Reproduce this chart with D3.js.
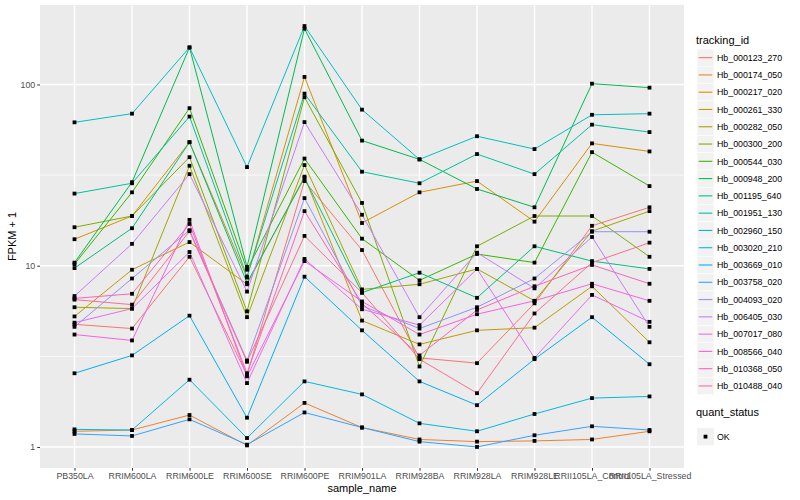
<!DOCTYPE html>
<html>
<head>
<meta charset="utf-8">
<script src="https://cdn.jsdelivr.net/npm/d3@7"></script>
<style>
  body { margin: 0; background: #fff; }
  text { font-family: "Liberation Sans", Arial, sans-serif; }
</style>
</head>
<body>
<div id="chart"></div>
<script>
// samples on the x axis
var samples = ["PB350LA", "RRIM600LA", "RRIM600LE", "RRIM600SE", "RRIM600PE", "RRIM901LA",
               "RRIM928BA", "RRIM928LA", "RRIM928LE", "RRII105LA_Control", "RRII105LA_Stressed"];

var trackingIds = ["Hb_000123_270", "Hb_000174_050", "Hb_000217_020", "Hb_000261_330", "Hb_000282_050",
                   "Hb_000300_200", "Hb_000544_030", "Hb_000948_200", "Hb_001195_640", "Hb_001951_130",
                   "Hb_002960_150", "Hb_003020_210", "Hb_003669_010", "Hb_003758_020", "Hb_004093_020",
                   "Hb_006405_030", "Hb_007017_080", "Hb_008566_040", "Hb_010368_050", "Hb_010488_040"];

// FPKM + 1, one array per tracking_id (same order as samples)
var hb_000123_270 = [4.75, 4.5, 11.2, 2.5, 29.3, 12.2, 3.1, 2.9, 6.2, 16.6, 21];
var hb_000174_050 = [1.22, 1.24, 1.5, 1.02, 1.75, 1.28, 1.1, 1.07, 1.08, 1.1, 1.22];
var hb_000217_020 = [14, 18.8, 48, 8.6, 110, 17.2, 25.4, 29.3, 17.5, 47.3, 42.7];
var hb_000261_330 = [5.25, 9.5, 13.5, 7.9, 31, 4.98, 3.68, 4.4, 4.55, 7.7, 3.78];
var hb_000282_050 = [5.9, 5.8, 35.6, 5.2, 35.9, 7.4, 7.9, 9.6, 6.4, 15.5, 20];
var hb_000300_200 = [16.3, 18.8, 39.7, 5.6, 85, 22.2, 2.78, 12.8, 18.8, 18.8, 11.2];
var hb_000544_030 = [10.2, 25.4, 74, 9.5, 39, 14.1, 8.3, 11.6, 10.4, 42.3, 27.5];
var hb_000948_200 = [10.4, 28.9, 160, 9.85, 203, 49, 38.6, 26.5, 21, 101, 96];
var hb_001195_640 = [9.7, 16.1, 48, 8.05, 30.5, 7.1, 9.15, 6.65, 12.8, 10.6, 9.6];
var hb_001951_130 = [25, 28.5, 66.5, 8.7, 89, 33, 28.5, 41.3, 32, 60, 54.6];
var hb_002960_150 = [61.8, 69, 160, 35, 210, 72.6, 38.6, 51.8, 44, 68, 69];
var hb_003020_210 = [1.25, 1.24, 2.35, 1.12, 2.3, 1.95, 1.35, 1.22, 1.52, 1.86, 1.9];
var hb_003669_010 = [2.55, 3.2, 5.3, 1.45, 8.7, 4.4, 2.3, 1.7, 3.05, 5.2, 2.86];
var hb_003758_020 = [1.18, 1.15, 1.42, 1.03, 1.55, 1.28, 1.07, 1.0, 1.16, 1.3, 1.24];
var hb_004093_020 = [4.6, 8.5, 15.7, 3.0, 23.6, 6.0, 4.5, 5.9, 8.5, 15.4, 15.4];
var hb_006405_030 = [6.8, 13.2, 32, 7.2, 62, 19.1, 5.2, 11.8, 7.5, 14.4, 4.6];
var hb_007017_080 = [4.85, 5.8, 11.9, 2.25, 10.9, 5.75, 4.7, 9.6, 3.1, 6.9, 4.9];
var hb_008566_040 = [4.17, 3.87, 17.9, 2.45, 10.6, 6.35, 4.17, 5.4, 6.4, 7.95, 6.4];
var hb_010368_050 = [6.6, 7.0, 17.0, 2.55, 20, 6.2, 3.2, 5.7, 7.7, 10.1, 7.95];
var hb_010488_040 = [6.5, 6.1, 15.5, 2.95, 14.6, 7.1, 3.05, 1.98, 5.45, 10.4, 13.4];

var seriesValues = [hb_000123_270, hb_000174_050, hb_000217_020, hb_000261_330, hb_000282_050,
                    hb_000300_200, hb_000544_030, hb_000948_200, hb_001195_640, hb_001951_130,
                    hb_002960_150, hb_003020_210, hb_003669_010, hb_003758_020, hb_004093_020,
                    hb_006405_030, hb_007017_080, hb_008566_040, hb_010368_050, hb_010488_040];

var yTicks = [1, 10, 100];
var yMinor = [Math.sqrt(10), Math.sqrt(1000)];

// ggplot hue palette for 20 levels
var colours = ["#F8766D", "#EA8331", "#D89000", "#C09B00", "#A3A500", "#7CAE00", "#39B600", "#00BB4E",
               "#00BF7D", "#00C1A3", "#00BFC4", "#00BAE0", "#00B0F6", "#35A2FF", "#9590FF", "#C77CFF",
               "#E76BF3", "#FA62DB", "#FF62BC", "#FF6C91"];

var W = 800, H = 500;
var panel = {left: 40, top: 5, right: 684, bottom: 468};
var ptSize = 3.8;

var svg = d3.select("#chart").append("svg")
    .attr("width", W)
    .attr("height", H);

// build long data
var data = trackingIds.map(function(id, i) {
    return {id: id, colour: colours[i], values: seriesValues[i].map(function(v, j) {
        return {sample: samples[j], v: v};
    })};
});

var allVals = d3.merge(seriesValues);
var lmin = Math.log10(d3.min(allVals)), lmax = Math.log10(d3.max(allVals));
var pad = (lmax - lmin) * 0.05;

var x = d3.scalePoint().domain(samples).range([panel.left, panel.right]).padding(0.6);
var y = d3.scaleLog()
    .domain([Math.pow(10, lmin - pad), Math.pow(10, lmax + pad)])
    .range([panel.bottom, panel.top]);

// panel background
svg.append("rect")
    .attr("x", panel.left).attr("y", panel.top)
    .attr("width", panel.right - panel.left).attr("height", panel.bottom - panel.top)
    .attr("fill", "#EBEBEB");

// minor grid
svg.selectAll(".minor").data(yMinor).enter().append("line")
    .attr("x1", panel.left).attr("x2", panel.right)
    .attr("y1", function(d) { return y(d); }).attr("y2", function(d) { return y(d); })
    .attr("stroke", "#fff").attr("stroke-width", 0.7);

// major grid
svg.selectAll(".hmajor").data(yTicks).enter().append("line")
    .attr("x1", panel.left).attr("x2", panel.right)
    .attr("y1", function(d) { return y(d); }).attr("y2", function(d) { return y(d); })
    .attr("stroke", "#fff").attr("stroke-width", 1.4);
svg.selectAll(".vmajor").data(samples).enter().append("line")
    .attr("y1", panel.top).attr("y2", panel.bottom)
    .attr("x1", function(d) { return x(d); }).attr("x2", function(d) { return x(d); })
    .attr("stroke", "#fff").attr("stroke-width", 1.4);

// lines
var line = d3.line()
    .x(function(d) { return x(d.sample); })
    .y(function(d) { return y(d.v); });

svg.selectAll(".series").data(data).enter().append("path")
    .attr("d", function(d) { return line(d.values); })
    .attr("fill", "none")
    .attr("stroke", function(d) { return d.colour; })
    .attr("stroke-width", 1);

// points
data.forEach(function(s) {
    svg.selectAll(null).data(s.values).enter().append("rect")
        .attr("x", function(d) { return x(d.sample) - ptSize / 2; })
        .attr("y", function(d) { return y(d.v) - ptSize / 2; })
        .attr("width", ptSize).attr("height", ptSize)
        .attr("fill", "#000");
});

// axes
var xAxis = svg.append("g")
    .attr("transform", "translate(0," + panel.bottom + ")")
    .call(d3.axisBottom(x).tickSize(2.75).tickPadding(2));
var yAxis = svg.append("g")
    .attr("transform", "translate(" + panel.left + ",0)")
    .call(d3.axisLeft(y).tickValues(yTicks).tickFormat(d3.format("d")).tickSize(2.75).tickPadding(2));

[xAxis, yAxis].forEach(function(a) {
    a.select(".domain").remove();
    a.selectAll(".tick line").attr("stroke", "#333").attr("stroke-width", 1);
    a.selectAll(".tick text").attr("fill", "#4D4D4D").attr("font-size", "8.8px")
        .style("font-family", "'Liberation Sans', Arial, sans-serif");
});

// axis titles
svg.append("text")
    .attr("x", (panel.left + panel.right) / 2).attr("y", 492)
    .attr("text-anchor", "middle").attr("font-size", "11px").attr("fill", "#000")
    .text("sample_name");
svg.append("text")
    .attr("transform", "translate(16," + ((panel.top + panel.bottom) / 2) + ") rotate(-90)")
    .attr("text-anchor", "middle").attr("font-size", "11px").attr("fill", "#000")
    .text("FPKM + 1");

// legend: tracking_id
var lg = svg.append("g");
var keyX = 697, keyTop = 49, keyH = 17.28;
lg.append("text").attr("x", 696).attr("y", 44).attr("font-size", "11px").attr("fill", "#000")
    .text("tracking_id");
data.forEach(function(s, i) {
    var ky = keyTop + i * keyH;
    lg.append("rect").attr("x", keyX).attr("y", ky).attr("width", 17).attr("height", keyH)
        .attr("fill", "#F2F2F2").attr("stroke", "#fff").attr("stroke-width", 0.5);
    lg.append("line").attr("x1", keyX + 1.7).attr("x2", keyX + 15.3)
        .attr("y1", ky + keyH / 2).attr("y2", ky + keyH / 2)
        .attr("stroke", s.colour).attr("stroke-width", 1.1);
    lg.append("text").attr("x", 717).attr("y", ky + keyH / 2 + 3.2)
        .attr("font-size", "8.8px").attr("fill", "#000").text(s.id);
});

// legend: quant_status
lg.append("text").attr("x", 696).attr("y", 416).attr("font-size", "11px").attr("fill", "#000")
    .text("quant_status");
lg.append("rect").attr("x", keyX).attr("y", 428).attr("width", 17).attr("height", keyH)
    .attr("fill", "#F2F2F2");
lg.append("rect").attr("x", keyX + 8.5 - ptSize / 2).attr("y", 428 + keyH / 2 - ptSize / 2)
    .attr("width", ptSize).attr("height", ptSize).attr("fill", "#000");
lg.append("text").attr("x", 717).attr("y", 428 + keyH / 2 + 3.2)
    .attr("font-size", "8.8px").attr("fill", "#000").text("OK");
</script>
</body>
</html>
